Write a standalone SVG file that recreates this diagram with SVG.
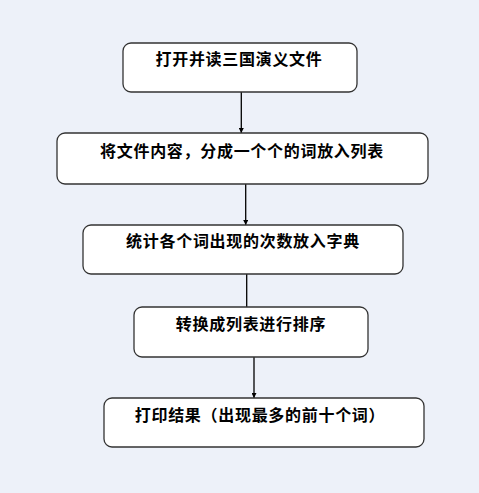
<svg xmlns="http://www.w3.org/2000/svg" width="479" height="493" viewBox="0 0 479 493">
<defs>
<style>
.box{fill:#ffffff;stroke:#333333;stroke-width:1.3}
.t{font-family:"Noto Sans CJK SC","Liberation Sans",sans-serif;font-size:16px;font-weight:bold;fill:#000000;text-anchor:middle;letter-spacing:0.7px}
.c{stroke:#000000;stroke-width:1.3;fill:none}
</style>
<marker id="ah" viewBox="0 0 8 8" refX="8" refY="4" markerWidth="5" markerHeight="5" orient="auto" markerUnits="userSpaceOnUse">
<path d="M0,0 L8,4 L0,8 Z" fill="#000000"/>
</marker>
</defs>
<rect x="0" y="0" width="479" height="493" fill="#EDF1F9"/>
<g id="connectors">
<line class="c" x1="241.3" y1="92" x2="241.3" y2="133" marker-end="url(#ah)"/>
<line class="c" x1="245.7" y1="184" x2="245.7" y2="225" marker-end="url(#ah)"/>
<line class="c" x1="246.7" y1="274" x2="246.7" y2="307"/>
<line class="c" x1="254" y1="357" x2="254" y2="398" marker-end="url(#ah)"/>
</g>
<g id="n1">
<rect class="box" x="123" y="43" width="234" height="49" rx="8"/>
<text class="t" x="239" y="65">打开并读三国演义文件</text>
</g>
<g id="n2">
<rect class="box" x="57" y="133" width="371" height="51" rx="8"/>
<text class="t" x="242" y="157">将文件内容，分成一个个的词放入列表</text>
</g>
<g id="n3">
<rect class="box" x="83" y="225" width="320" height="49" rx="8"/>
<text class="t" x="243" y="247">统计各个词出现的次数放入字典</text>
</g>
<g id="n4">
<rect class="box" x="134" y="307" width="234" height="50" rx="8"/>
<text class="t" x="251" y="330">转换成列表进行排序</text>
</g>
<g id="n5">
<rect class="box" x="104" y="398" width="320" height="49" rx="8"/>
<text class="t" x="260" y="421">打印结果（出现最多的前十个词）</text>
</g>
</svg>
